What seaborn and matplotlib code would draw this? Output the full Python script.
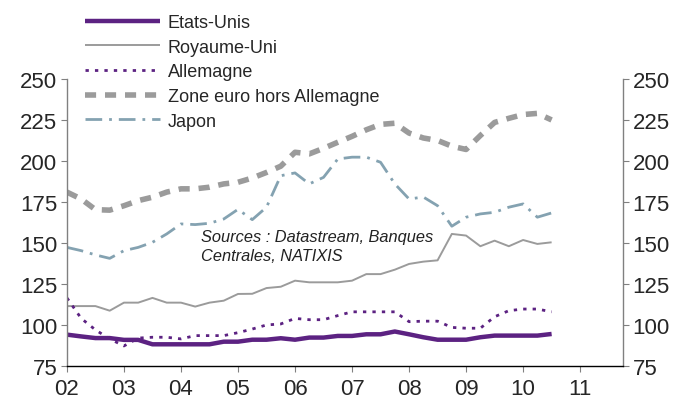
import numpy as np
import pandas as pd
import matplotlib
matplotlib.use("Agg")
import matplotlib.pyplot as plt
import seaborn as sns

# quarterly data 2002Q1 .. 2010Q3
quarters = pd.period_range("2002Q1", "2010Q3", freq="Q")
etats_unis = [94.1, 93.0, 92.0, 92.0, 90.9, 90.9, 88.2, 88.2, 88.2, 88.2, 88.2, 89.8, 89.8,
              91.0, 91.0, 91.9, 91.0, 92.3, 92.3, 93.3, 93.3, 94.3, 94.3, 96.0, 94.3,
              92.5, 91.0, 91.0, 91.0, 92.5, 93.5, 93.5, 93.5, 93.5, 94.5]
royaume_uni = [111.5, 111.5, 111.5, 108.7, 113.6, 113.6, 116.5, 113.6, 113.6, 111.2, 113.6, 114.8, 118.9,
               119.0, 122.5, 123.3, 127.0, 126.0, 126.0, 126.0, 127.0, 131.0, 131.0, 133.7, 137.2,
               138.6, 139.4, 155.5, 154.5, 148.0, 151.4, 148.0, 151.8, 149.4, 150.4]
allemagne = [116.5, 104.0, 97.0, 91.5, 87.2, 92.0, 92.5, 92.5, 91.5, 93.5, 93.5, 93.5, 95.3,
             97.5, 100.0, 100.6, 104.0, 103.2, 103.2, 105.7, 108.0, 108.0, 108.0, 108.0, 102.0,
             102.3, 102.3, 98.5, 98.0, 98.0, 105.0, 108.7, 109.7, 109.7, 108.0]
zone_euro = [181.0, 176.8, 170.3, 170.0, 172.7, 175.8, 177.9, 181.0, 183.0, 183.0, 184.0, 186.0, 187.0,
             189.6, 193.0, 196.8, 205.3, 204.3, 207.7, 211.4, 215.0, 219.0, 222.3, 223.0, 217.0,
             214.0, 212.5, 209.0, 207.0, 215.5, 223.5, 226.0, 228.3, 229.0, 225.0]
japon = [147.3, 145.3, 142.7, 140.6, 145.3, 147.3, 150.4, 155.5, 161.6, 161.2, 162.0, 164.6, 170.5,
         164.2, 171.8, 191.0, 192.7, 186.0, 190.0, 201.2, 202.3, 202.3, 199.2, 186.0, 176.8,
         178.0, 172.7, 160.2, 165.7, 167.7, 168.7, 171.8, 173.8, 165.7, 168.3]

series_names = ["Etats-Unis", "Royaume-Uni", "Allemagne", "Zone euro hors Allemagne", "Japon"]
xtick_labels = ["02", "03", "04", "05", "06", "07", "08", "09", "10", "11"]
yticks = [75, 100, 125, 150, 175, 200, 225, 250]

x = np.array([q.year + (q.quarter - 1) / 4 for q in quarters])
values = [etats_unis, royaume_uni, allemagne, zone_euro, japon]

purple = "#5c2282"
grey = "#9b9b9b"
blue = "#84a2b1"
styles = [
    dict(color=purple, lw=3.2, ls="-"),
    dict(color=grey, lw=1.4, ls="-"),
    dict(color=purple, lw=2.0, ls=(0, (1.2, 2.2))),
    dict(color=grey, lw=4.0, ls=(0, (2.0, 1.6))),
    dict(color=blue, lw=2.0, ls=(0, (6, 2.5, 1, 2.5))),
]

sns.set_style("white")
plt.rcParams["font.family"] = ["Liberation Sans", "DejaVu Sans"]

fig = plt.figure(figsize=(6.83, 4.10), dpi=100)
ax = fig.add_axes([0.098, 0.105, 0.814, 0.700])

handles = []
for name, vals, st in zip(series_names, values, styles):
    sns.lineplot(x=x, y=vals, ax=ax, color=st["color"], linewidth=st["lw"],
                 label=name, legend=False)
    line = ax.get_lines()[-1]
    line.set_linestyle(st["ls"])
    line.set_solid_capstyle("butt")
    line.set_dash_capstyle("butt")
    handles.append(line)

ax.set_xlim(2002, 2011.75)
ax.set_ylim(75, 250)
ax.set_xticks(np.arange(2002, 2012))
ax.set_xticklabels(xtick_labels)
ax.set_yticks(yticks)
ax.set_xlabel("")
ax.set_ylabel("")

for s in ["left", "right", "bottom"]:
    ax.spines[s].set_visible(True)
    ax.spines[s].set_color("#808080")
    ax.spines[s].set_linewidth(1.0)
ax.spines["bottom"].set_color("#000000")
ax.spines["top"].set_visible(False)

ax.tick_params(axis="y", which="both", direction="out", length=4, width=0.8, color="#808080",
               left=True, right=True, labelleft=True, labelright=True, labelsize=16, pad=3)
ax.tick_params(axis="x", direction="out", length=4, width=0.8, color="#808080",
               bottom=True, labelsize=16, pad=5)

ax.text(2004.35, 148.3, "Sources : Datastream, Banques\nCentrales, NATIXIS",
        fontsize=11.8, style="italic", color="#222222", linespacing=1.35, va="center", ha="left")

leg = fig.legend(handles=handles, labels=series_names, loc="upper left",
                 bbox_to_anchor=(0.111, 0.985), frameon=False, fontsize=13,
                 handlelength=4.15, handletextpad=0.45, labelspacing=0.42, borderpad=0)
for lh, st in zip(leg.get_lines(), styles):
    lh.set_linestyle(st["ls"])
    lh.set_linewidth(st["lw"])

fig.savefig("out.png", dpi=100)
